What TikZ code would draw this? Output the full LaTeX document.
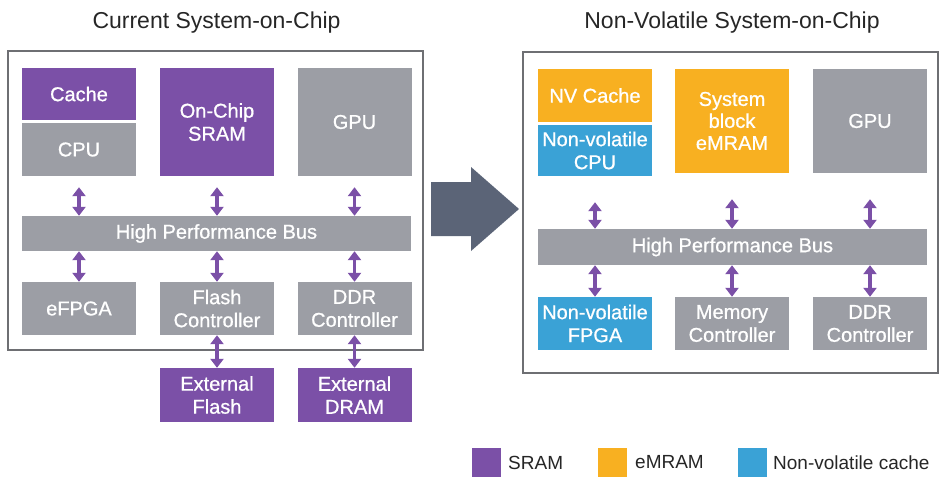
\documentclass[tikz,border=0pt]{standalone}
\usepackage{fontspec}
\setmainfont{Liberation Sans}
\newfontfamily\boxfont{Liberation Sans}[FakeBold=0.8]
\usetikzlibrary{arrows.meta}
\definecolor{sramc}{HTML}{7B50A7}
\definecolor{greyc}{HTML}{9C9EA5}
\definecolor{mramc}{HTML}{F8B021}
\definecolor{nvc}{HTML}{3AA2D6}
\definecolor{framec}{HTML}{6E6F73}
\definecolor{bigarrowc}{HTML}{5B6477}
\tikzstyle{blk}=[rectangle, inner sep=0pt, text=white, align=center, minimum width=114pt, font=\boxfont\fontsize{20}{23}\selectfont]
\tikzstyle{blkpurple}=[blk, fill=sramc]
\tikzstyle{blkgrey}=[blk, fill=greyc]
\tikzstyle{blkorange}=[blk, fill=mramc]
\tikzstyle{blkblue}=[blk, fill=nvc]
\tikzstyle{busbar}=[blk, fill=greyc, minimum width=389pt, minimum height=35pt]
\tikzstyle{chip}=[rectangle, draw=framec, line width=2.5pt, inner sep=0pt]
\tikzstyle{bidir}=[{Triangle[width=13pt,length=9pt]}-{Triangle[width=13pt,length=9pt]}, line width=3.5pt, draw=sramc]
\tikzstyle{legbox}=[rectangle, inner sep=0pt, minimum size=29pt]
\tikzstyle{legtext}=[anchor=west, inner sep=0pt, text=black!85, font=\fontsize{19}{22}\selectfont]
\tikzstyle{title}=[anchor=base, inner sep=0pt, text=black!85, font=\fontsize{23}{26}\selectfont]

\begin{document}
\begin{tikzpicture}[x=1pt, y=-1pt]
	\useasboundingbox (0,0) rectangle (952,498);
	\begin{scope}
		% current SoC
		\node (ltitle) at (216.5, 28) [title] {Current System-on-Chip};
		\node (lchip) at (215.5, 200.5) [chip, minimum width=415pt, minimum height=299pt] {};
		\node (cache) at (79, 94) [blkpurple, minimum height=52pt] {Cache};
		\node (cpu) at (79, 149.5) [blkgrey, minimum height=53pt] {CPU};
		\node (sram) at (217, 122) [blkpurple, minimum height=108pt] {On-Chip\\SRAM};
		\node (gpu) at (354.5, 122) [blkgrey, minimum height=108pt] {GPU};
		\node (bus) at (216.5, 233.5) [busbar] {High Performance Bus};
		\node (efpga) at (79, 308.5) [blkgrey, minimum height=53pt] {eFPGA};
		\node (flashctl) at (217, 308.5) [blkgrey, minimum height=53pt] {Flash\\Controller};
		\node (ddrctl) at (354.5, 308.5) [blkgrey, minimum height=53pt] {DDR\\Controller};
		\node (extflash) at (217, 395) [blkpurple, minimum height=54pt] {External\\Flash};
		\node (extdram) at (354.5, 395) [blkpurple, minimum height=54pt] {External\\DRAM};

		% non-volatile SoC
		\node (rtitle) at (732, 28) [title] {Non-Volatile System-on-Chip};
		\node (rchip) at (730.5, 212.5) [chip, minimum width=415pt, minimum height=321pt] {};
		\node (nvcache) at (595, 95.5) [blkorange, minimum height=53pt] {NV Cache};
		\node (nvcpu) at (595, 150.5) [blkblue, minimum height=51pt] {Non-volatile\\CPU};
		\node (sysblk) at (732, 121) [blkorange, minimum height=104pt, font=\boxfont\fontsize{20}{22}\selectfont] {System\\block\\eMRAM};
		\node (gpu2) at (870, 121) [blkgrey, minimum height=104pt] {GPU};
		\node (bus2) at (732.5, 247) [busbar, minimum height=36pt] {High Performance Bus};
		\node (nvfpga) at (595, 323.5) [blkblue, minimum height=53pt] {Non-volatile\\FPGA};
		\node (memctl) at (732, 323.5) [blkgrey, minimum height=53pt] {Memory\\Controller};
		\node (ddrctl2) at (870, 323.5) [blkgrey, minimum height=53pt] {DDR\\Controller};

		% legend
		\node (legsram) at (486.5, 462.5) [legbox, fill=sramc] {};
		\node (legsramt) at (508, 462.5) [legtext] {SRAM};
		\node (legmram) at (612, 462.5) [legbox, fill=mramc] {};
		\node (legmramt) at (635, 462.5) [legtext] {eMRAM};
		\node (legnv) at (752, 462.5) [legbox, fill=nvc] {};
		\node (legnvt) at (773, 462.5) [legtext] {Non-volatile cache};
	\end{scope}
	\begin{scope}
		\fill [bigarrowc] (431,182) -- (471,182) -- (471,167) -- (519,209) -- (471,251) -- (471,236) -- (431,236) -- cycle;

		\draw [bidir, shorten <=11pt] (cpu.south) -- (cpu.south |- bus.north);
		\draw [bidir, shorten <=11pt] (sram.south) -- (sram.south |- bus.north);
		\draw [bidir, shorten <=11pt] (gpu.south) -- (gpu.south |- bus.north);
		\draw [bidir] (efpga.north |- bus.south) -- (efpga.north);
		\draw [bidir] (flashctl.north |- bus.south) -- (flashctl.north);
		\draw [bidir] (ddrctl.north |- bus.south) -- (ddrctl.north);
		\draw [bidir] (flashctl.south) -- (extflash.north);
		\draw [bidir] (ddrctl.south) -- (extdram.north);

		\draw [bidir, shorten <=26pt] (nvcpu.south) -- (nvcpu.south |- bus2.north);
		\draw [bidir, shorten <=26pt] (sysblk.south) -- (sysblk.south |- bus2.north);
		\draw [bidir, shorten <=26pt] (gpu2.south) -- (gpu2.south |- bus2.north);
		\draw [bidir] (nvfpga.north |- bus2.south) -- (nvfpga.north);
		\draw [bidir] (memctl.north |- bus2.south) -- (memctl.north);
		\draw [bidir] (ddrctl2.north |- bus2.south) -- (ddrctl2.north);
	\end{scope}
\end{tikzpicture}
\end{document}
